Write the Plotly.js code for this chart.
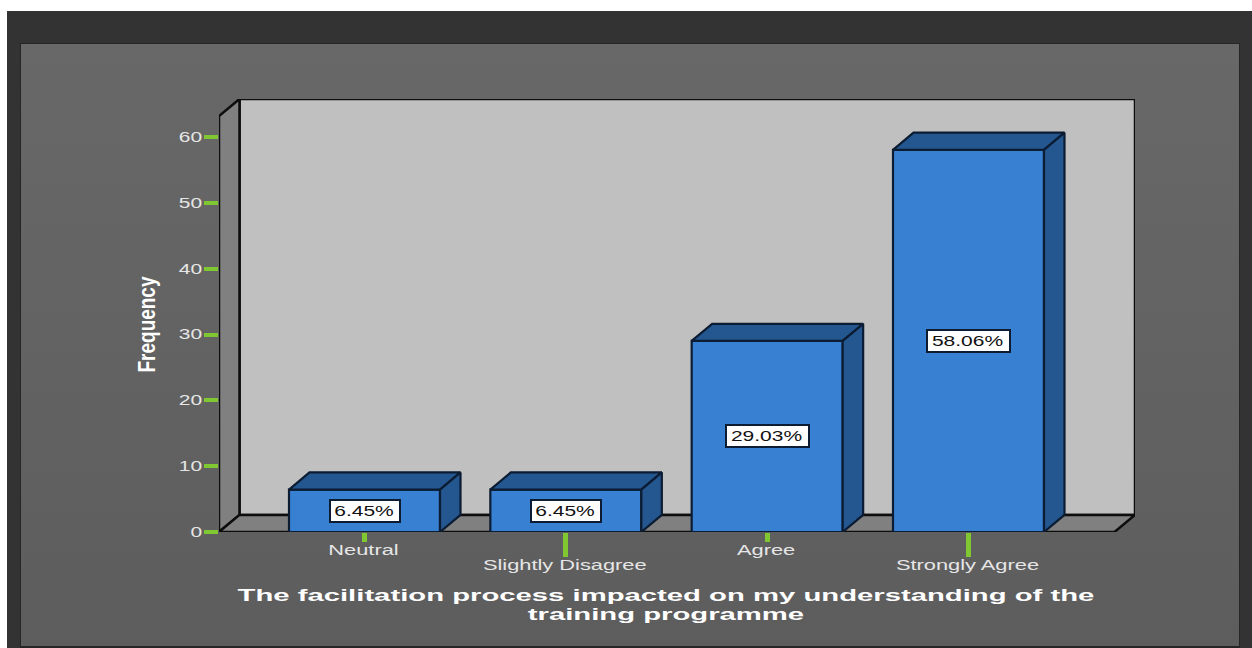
<!DOCTYPE html>
<html><head><meta charset="utf-8">
<script src="https://cdn.plot.ly/plotly-3.0.1.min.js"></script>
<style>
html,body{margin:0;padding:0;background:#fff;width:1252px;height:648px;overflow:hidden}
#outer{position:absolute;left:7px;top:11px;width:1245px;height:637px;background:#333}
#inner{position:absolute;left:20px;top:43px;width:1218px;height:602px;border:1px solid #262626;border-bottom-width:2px;background:linear-gradient(#686868,#5d5d5d)}
#chart{position:absolute;left:0;top:0;width:1252px;height:648px}
</style></head><body>
<div id="outer"></div><div id="inner"></div><div id="chart"></div>
<script>
const categories = ['Neutral','Slightly Disagree','Agree','Strongly Agree'];
const values = [6.45, 6.45, 29.03, 58.06];
const barLabels = ['6.45%','6.45%','29.03%','58.06%'];
const yTicks = [0,10,20,30,40,50,60];
const xTitle = 'The facilitation process impacted on my understanding of the<br>training programme';
const yTitle = 'Frequency';

const xRange = [-0.7227, 3.827], yRange = [0, 65.78];
const barW = 0.75, dX = 0.1018, dY = 2.6;
const idx = categories.map((_,i)=>i);
const edge = '#0b1c33', wallEdge = '#0d0d0d';

const topX=[],topY=[],sideX=[],sideY=[];
idx.forEach(i=>{
  const a=i-barW/2,b=i+barW/2,v=values[i];
  topX.push(a,a+dX,b+dX,b,a,null); topY.push(v,v+dY,v+dY,v,v,null);
  sideX.push(b,b+dX,b+dX,b,b,null); sideY.push(v,v+dY,dY,0,v,null);
});
const traces=[
 {type:'bar',x:idx,y:values,width:barW,xaxis:'x',yaxis:'y',hoverinfo:'skip',
  marker:{color:'#3881d2',line:{color:edge,width:2.2}}},
 {type:'scatter',mode:'lines',x:topX,y:topY,xaxis:'x2',yaxis:'y',fill:'toself',fillcolor:'#24568f',
  line:{color:edge,width:2.2},hoverinfo:'skip'},
 {type:'scatter',mode:'lines',x:sideX,y:sideY,xaxis:'x2',yaxis:'y',fill:'toself',fillcolor:'#24568f',
  line:{color:edge,width:2.2},hoverinfo:'skip'}
];
const x0=xRange[0],x1=xRange[1],yT=yRange[1];
const poly=p=>'M'+p.map(q=>q.join(',')).join('L')+'Z';
const shapes=[
 {path:poly([[x0+dX,dY],[x1,dY],[x1,yT],[x0+dX,yT]]),fillcolor:'#c0c0c0'},
 {path:poly([[x0,0],[x0+dX,dY],[x0+dX,yT],[x0,yT-dY]]),fillcolor:'#808080'},
 {path:poly([[x0,0],[x1-dX,0],[x1,dY],[x0+dX,dY]]),fillcolor:'#808080'}
].map(s=>Object.assign(s,{type:'path',xref:'x',yref:'y',layer:'below',line:{color:wallEdge,width:2.5}}));
const annotations=idx.map(i=>({x:i,y:values[i]/2,xref:'x',yref:'y',text:barLabels[i],showarrow:false,
  bgcolor:'#fff',bordercolor:edge,borderwidth:2,borderpad:0,
  width:barLabels[i].length*13+3,height:20,
  font:{family:'Liberation Sans',size:14,color:'#111'}}));
const green='#7fc832', tickFont={family:'Liberation Sans',size:14,color:'#e6e6e6'};
const layout={
 width:1252,height:648,showlegend:false,
 paper_bgcolor:'rgba(0,0,0,0)',plot_bgcolor:'rgba(0,0,0,0)',
 margin:{l:219,r:117,t:99,b:116},
 xaxis:{range:xRange,tickmode:'array',tickvals:[1,3],ticktext:[categories[1],categories[3]],
   ticks:'outside',ticklen:24,tickwidth:5,tickcolor:green,tickfont:tickFont,
   showgrid:false,zeroline:false,showline:false,fixedrange:true,
   title:{text:xTitle,standoff:14,font:{family:'Liberation Sans',size:16,color:'#fff',weight:'bold'}}},
 xaxis2:{range:xRange,overlaying:'x',side:'bottom',anchor:'y',tickmode:'array',tickvals:[0,2],ticktext:[categories[0],categories[2]],
   ticks:'outside',ticklen:9,tickwidth:5,tickcolor:green,tickfont:tickFont,
   showgrid:false,zeroline:false,showline:false,fixedrange:true},
 yaxis:{range:yRange,tickmode:'array',tickvals:yTicks,ticks:'outside',ticklen:14,tickwidth:4,tickcolor:green,
   tickfont:tickFont,ticklabelstandoff:0,showgrid:false,zeroline:false,showline:false,fixedrange:true,
   title:{text:yTitle,standoff:20,font:{family:'Liberation Sans',size:19,color:'#fff',weight:'bold'}}},
 shapes,annotations
};
// The original lettering is horizontally stretched; scale the real text nodes about an anchor point.
function stretch(el,sx,sy,anchor,dx,dy){
  const b=el.getBBox();
  const list=el.transform.baseVal; const m=list.consolidate()?list.consolidate().matrix:el.ownerSVGElement.createSVGMatrix();
  const ax=anchor==='right'?b.x+b.width:b.x+b.width/2, ay=b.y+b.height/2;
  const px=m.a*ax+m.c*ay+m.e, py=m.b*ax+m.d*ay+m.f;
  const old=el.getAttribute('transform')||'';
  el.setAttribute('transform',`translate(${px+(dx||0)},${py+(dy||0)}) scale(${sx},${sy}) translate(${-px},${-py}) ${old}`);
}
Plotly.newPlot('chart',traces,layout,{displayModeBar:false,staticPlot:true}).then(gd=>{
  const q=s=>gd.querySelectorAll(s);
  q('.xtick text,.x2tick text').forEach(t=>stretch(t,1.56,1,'center',-1,-3.5));
  q('.ytick text').forEach(t=>stretch(t,1.5,1,'right',1,0));
  q('.annotation-text').forEach(t=>stretch(t,1.5,1,'center',-1,0));
  q('.g-xtitle text').forEach(t=>{
    const l=t.querySelectorAll('tspan.line');
    if(l.length>1) l[1].setAttribute('y',parseFloat(l[1].getAttribute('y'))-1.8);
    stretch(t,1.83,1,'center',-11,0);
  });
  q('.g-ytitle text').forEach(t=>stretch(t,1.3,1,'center',-6.5,9));
});
</script></body></html>
